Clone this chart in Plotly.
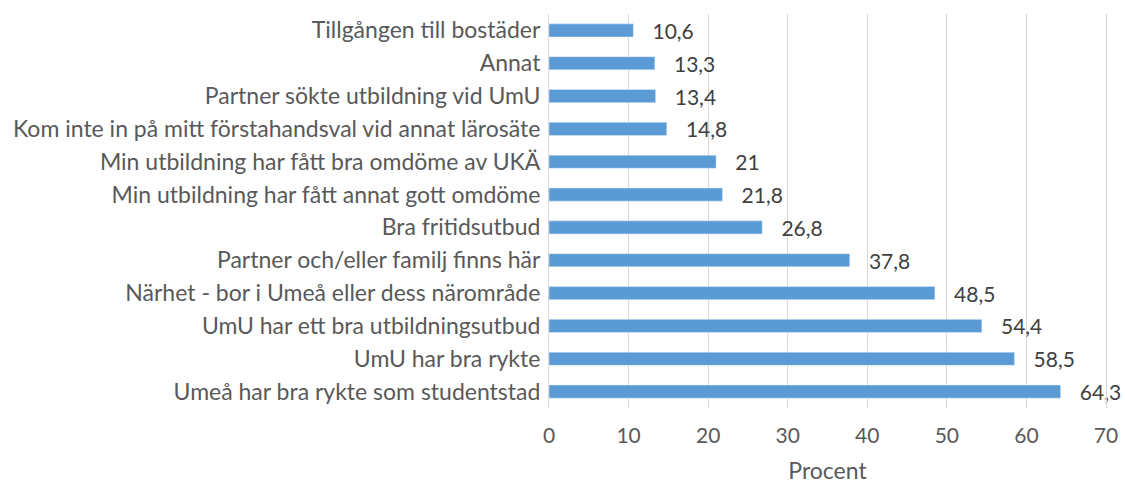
import plotly.graph_objects as go

categories = [
    "Tillgången till bostäder",
    "Annat",
    "Partner sökte utbildning vid UmU",
    "Kom inte in på mitt förstahandsval vid annat lärosäte",
    "Min utbildning har fått bra omdöme av UKÄ",
    "Min utbildning har fått annat gott omdöme",
    "Bra fritidsutbud",
    "Partner och/eller familj finns här",
    "Närhet - bor i Umeå eller dess närområde",
    "UmU har ett bra utbildningsutbud",
    "UmU har bra rykte",
    "Umeå har bra rykte som studentstad",
]
values = [10.6, 13.3, 13.4, 14.8, 21, 21.8, 26.8, 37.8, 48.5, 54.4, 58.5, 64.3]
labels = ["10,6", "13,3", "13,4", "14,8", "21", "21,8", "26,8", "37,8", "48,5", "54,4", "58,5", "64,3"]
x_ticks = [0, 10, 20, 30, 40, 50, 60, 70]

FONT = "Lato, Carlito, Calibri, sans-serif"

fig = go.Figure(go.Bar(
    y=categories,
    x=values,
    orientation="h",
    text=labels,
    texttemplate="   %{text}",
    textposition="outside",
    constraintext="none",
    textfont=dict(family=FONT, size=21, color="#404040"),
    marker=dict(color="#5B9BD5"),
    width=0.4,
    cliponaxis=False,
))

fig.update_layout(
    width=1125, height=487,
    margin=dict(l=549, r=19, t=14, b=79, autoexpand=False),
    paper_bgcolor="white", plot_bgcolor="white",
    showlegend=False,
    font=dict(family=FONT, size=21, color="#595959"),
    xaxis=dict(
        range=[0, 70], tickvals=x_ticks, ticktext=[str(t) for t in x_ticks],
        showgrid=True, gridcolor="#D9D9D9", gridwidth=1,
        zeroline=False, showline=False, automargin=False,
        ticklabeloverflow="allow",
        tickfont=dict(family=FONT, size=21, color="#595959"),
        ticks="outside", ticklen=9, tickcolor="rgba(0,0,0,0)",
        title=dict(text="Procent", font=dict(family=FONT, size=23, color="#595959"), standoff=16),
    ),
    yaxis=dict(
        categoryorder="array", categoryarray=categories, autorange="reversed",
        showgrid=False, showline=True, mirror=True, linecolor="#D9D9D9", linewidth=1,
        automargin=False,
        tickfont=dict(family=FONT, size=23, color="#595959"),
        ticks="outside", ticklen=3, tickcolor="rgba(0,0,0,0)",
    ),
)

fig.write_html("out.html", config={"displayModeBar": False},
               post_script="document.body.style.margin='0';")
